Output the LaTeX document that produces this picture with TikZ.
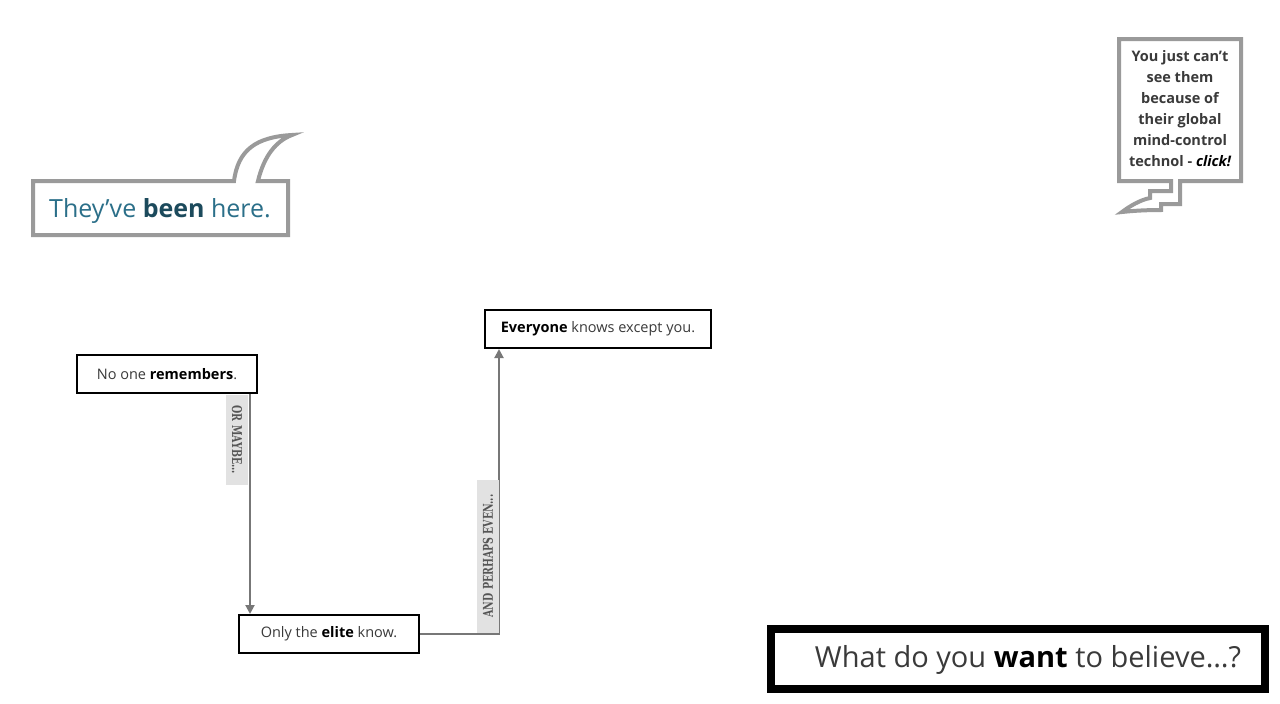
\documentclass[tikz,border=0pt]{standalone}
\usepackage{fontspec}
\setmainfont{Open Sans}
\newfontfamily\labelfont[FakeStretch=0.7]{DejaVu Serif}
\usetikzlibrary{arrows.meta}
\definecolor{bubblegray}{HTML}{9A9A9A}
\definecolor{conngray}{HTML}{777777}
\definecolor{labelbg}{HTML}{E2E2E2}
\definecolor{labeltext}{HTML}{555555}
\definecolor{teal}{HTML}{2B6F89}
\definecolor{darkteal}{HTML}{1C4A5C}
\definecolor{softtext}{HTML}{3A3A3A}
\tikzset{
  stepbox/.style={draw=black, line width=2pt, fill=white, minimum height=38pt, inner sep=0pt, font=\fontsize{14.5}{16}\selectfont, text=softtext},
  conn/.style={draw=conngray, line width=2pt, -{Triangle[width=9pt,length=9pt]}},
  lbl/.style={fill=labelbg, text=labeltext, inner sep=0pt, minimum height=22pt, font=\labelfont\bfseries\fontsize{13.5}{15}\selectfont},
  bubble/.style={draw=bubblegray, line width=4pt, fill=white, line join=miter},
}
\begin{document}
\begin{tikzpicture}[x=1pt,y=-1pt]
\useasboundingbox (0,0) rectangle (1280,704);
% top-left speech bubble
\draw[bubble] (33,181) -- (234,181) .. controls (238,150) and (256,137) .. (292,135)
   .. controls (276,141) and (264,156) .. (258,181) -- (288,181) -- (288,235) -- (33,235) -- cycle;
\node[font=\fontsize{25}{28}\selectfont, text=teal] (they) at (160,211) {They’ve \textcolor{darkteal}{\bfseries been} here.};
% top-right speech bubble
\draw[bubble] (1119,39) -- (1241,39) -- (1241,181) -- (1180,181) -- (1180,204) -- (1161,204) -- (1161,210)
   .. controls (1144,210) and (1131,211) .. (1122,212)
   .. controls (1130,206) and (1140,200) .. (1150,198) -- (1150,191) -- (1171,191) -- (1171,181) -- (1119,181) -- cycle;
\node[align=center, font=\bfseries\fontsize{14.5}{21}\selectfont, text=softtext] (click) at (1180,109)
  {You just can’t\\see them\\because of\\their global\\mind-control\\technol - \textcolor{black}{\itshape click!}};
% flow boxes
\node[stepbox, minimum width=180pt] (n1) at (167,374) {No one \textcolor{black}{\bfseries remembers}.};
\node[stepbox, minimum width=180pt] (n2) at (329,634) {Only the \textcolor{black}{\bfseries elite} know.};
\node[stepbox, minimum width=226pt] (n3) at (598,329) {\textcolor{black}{\bfseries Everyone} knows except you.};
% connectors
\draw[conn] ([xshift=-8pt]n1.south east) -- ([xshift=-8pt]n1.south east |- n2.north);
\draw[conn] (n2.east) -| ([xshift=15pt]n3.south west);
\node[lbl, rotate=-90, minimum width=90pt] (l1) at (237,440) {OR MAYBE...};
\node[lbl, rotate=90, minimum width=153pt] (l2) at (488,556) {AND PERHAPS EVEN...};
% final box
\node[draw=black, line width=8pt, fill=white, minimum width=494pt, minimum height=60pt, inner sep=0pt] (fin) at (1018,659) {};
\node[font=\fontsize{29}{32}\selectfont, text=softtext] (fintext) at (1028,660) {What do you \textcolor{black}{\bfseries want} to believe…?};
\end{tikzpicture}
\end{document}
